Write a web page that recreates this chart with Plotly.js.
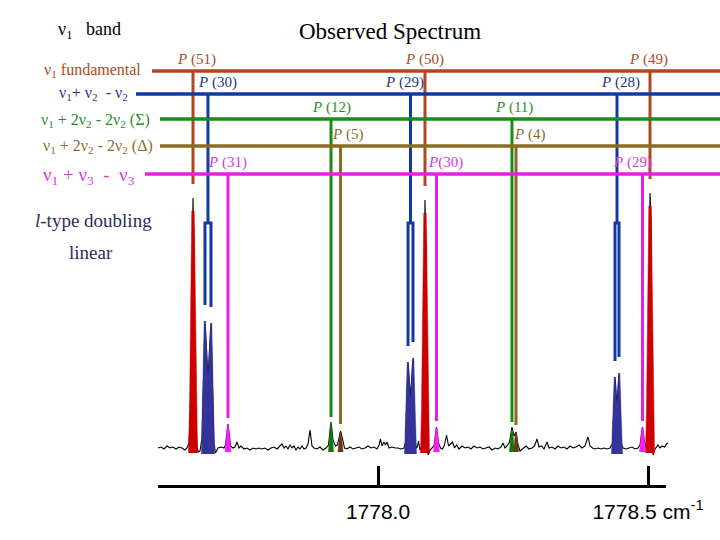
<!DOCTYPE html>
<html><head><meta charset="utf-8">
<script src="https://cdn.plot.ly/plotly-3.0.1.min.js"></script>
<style>body{margin:0;background:#fff}</style>
</head><body><div id="chart" style="width:720px;height:540px"></div>
<script>
// ---------------- data ----------------
// nu1 fundamental, P-branch lines
const fundJ   = [51, 50, 49];
const fundPos = [1777.6574, 1778.0870, 1778.5037];
const fundHt  = [250, 248, 255];

// nu1 + nu2 - nu2 hot band, l-type doubled components
const hotJ    = [30, 29, 28];
const hotPosA = [1777.6796, 1778.0556, 1778.4389];
const hotPosB = [1777.6907, 1778.0648, 1778.4463];
const hotHtA  = [127, 86, 71];
const hotHtB  = [125, 90, 75];

// nu1 + 2nu2 - 2nu2 (Sigma)
const sigJ   = [12, 11];
const sigPos = [1777.9130, 1778.2481];
const sigHt  = [23, 18];

// nu1 + 2nu2 - 2nu2 (Delta)
const delJ   = [5, 4];
const delPos = [1777.9306, 1778.2556];
const delHt  = [16, 15];

// nu1 + nu3 - nu3
const v3J   = [31, 30, 29];
const v3Pos = [1777.7222, 1778.1083, 1778.4898];
const v3Ht  = [23, 20, 20];

// observed spectrum trace (wavenumber, intensity above baseline)
const specWn = [
1777.5926,1777.5981,1777.6037,1777.6093,1777.6148,1777.6204,1777.6259,1777.6315,1777.6370,1777.6426,
1777.6463,1777.6500,1777.6537,1777.6565,1777.6574,1777.6593,1777.6611,1777.6648,1777.6676,1777.6704,
1777.6741,1777.6796,1777.6852,1777.6907,1777.6963,1777.6991,1777.7037,1777.7093,1777.7148,1777.7176,
1777.7222,1777.7269,1777.7315,1777.7352,1777.7389,1777.7426,1777.7463,1777.7519,1777.7574,1777.7630,
1777.7685,1777.7741,1777.7796,1777.7852,1777.7907,1777.7963,1777.8019,1777.8074,1777.8130,1777.8185,
1777.8222,1777.8259,1777.8296,1777.8333,1777.8370,1777.8407,1777.8444,1777.8481,1777.8519,1777.8556,
1777.8593,1777.8630,1777.8667,1777.8704,1777.8741,1777.8778,1777.8815,1777.8870,1777.8926,1777.8981,
1777.9037,1777.9083,1777.9130,1777.9167,1777.9213,1777.9250,1777.9306,1777.9343,1777.9380,1777.9426,
1777.9481,1777.9537,1777.9593,1777.9648,1777.9704,1777.9759,1777.9815,1777.9870,1777.9926,1777.9981,
1778.0019,1778.0046,1778.0074,1778.0111,1778.0139,1778.0167,1778.0204,1778.0259,1778.0315,1778.0370,
1778.0426,1778.0481,1778.0509,1778.0556,1778.0602,1778.0648,1778.0685,1778.0722,1778.0750,1778.0778,
1778.0815,1778.0843,1778.0870,1778.0889,1778.0907,1778.0926,1778.0963,1778.1000,1778.1037,1778.1083,
1778.1120,1778.1157,1778.1194,1778.1231,1778.1269,1778.1306,1778.1343,1778.1380,1778.1417,1778.1454,
1778.1500,1778.1556,1778.1611,1778.1667,1778.1722,1778.1778,1778.1833,1778.1889,1778.1944,1778.2000,
1778.2056,1778.2111,1778.2167,1778.2222,1778.2278,1778.2315,1778.2352,1778.2389,1778.2435,1778.2481,
1778.2519,1778.2556,1778.2593,1778.2630,1778.2685,1778.2741,1778.2796,1778.2852,1778.2898,1778.2944,
1778.2981,1778.3028,1778.3074,1778.3130,1778.3167,1778.3222,1778.3278,1778.3333,1778.3389,1778.3444,
1778.3500,1778.3556,1778.3611,1778.3667,1778.3722,1778.3778,1778.3833,1778.3889,1778.3926,1778.3972,
1778.4019,1778.4074,1778.4130,1778.4185,1778.4241,1778.4296,1778.4343,1778.4389,1778.4426,1778.4463,
1778.4500,1778.4537,1778.4593,1778.4648,1778.4704,1778.4759,1778.4815,1778.4852,1778.4898,1778.4935,
1778.4972,1778.5009,1778.5028,1778.5037,1778.5056,1778.5074,1778.5093,1778.5130,1778.5185,1778.5222,
1778.5259,1778.5306,1778.5343,1778.5370];
const specInt = [
0,1,-1,2,0,1,-1,1,0,-2,
0,5,60,240,250,200,60,0,-4,-3,
10,127,70,125,5,-5,0,1,0,3,
24,2,0,1,6,0,2,-1,0,-2,
0,-1,0,-1,0,-2,0,1,-1,2,
4,0,2,-1,3,0,2,-2,1,-1,
2,-1,0,4,18,2,0,-1,1,-2,
0,3,26,8,2,3,17,9,0,-1,
1,-1,0,1,-1,0,2,0,1,-1,
3,9,2,6,3,6,0,1,0,0,
-1,0,5,86,50,90,4,0,7,-2,
2,50,248,200,40,-7,-2,0,2,21,
5,0,-1,3,13,2,4,6,0,3,
-1,2,0,1,-1,2,0,1,-1,0,
1,-2,0,-1,1,5,0,2,6,21,
12,16,3,-3,0,2,-1,0,2,9,
1,2,-1,6,0,1,-1,2,0,1,
-1,2,0,1,3,0,2,11,2,0,
-1,0,-1,0,-1,0,5,71,42,75,
5,0,-1,0,1,-1,0,3,21,6,
0,30,200,255,230,40,-7,-1,3,0,
2,1,4,5];

const tickVals = [1778.0, 1778.5];
const tickText = ['1778.0', '1778.5 cm<sup>-1</sup>'];

// ---------------- drawing scale & styles ----------------
const W = 720, H = 540;
const X0 = 1777.3, PXW = 540;             // cm^-1 at left edge, pixels per cm^-1
const XR = [X0, X0 + W / PXW];
const YR = [-92, 448];
const PX = 1 / PXW;
const wnOf = p => X0 + p / PXW;
const paperY = py => 1 - py / H;

const serif = 'Liberation Serif, Times New Roman, serif';

const C = {
  brown:  {line:'#b4461e', text:'#a84c25', fill:'#cc0000'},
  blue:   {line:'#1238a4', text:'#1f3580', fill:'#333399'},
  green:  {line:'#178c17', text:'#2a8a2a', fill:'#0d7a0d'},
  olive:  {line:'#8c6a22', text:'#8a6d2a', fill:'#6b3a14'},
  magenta:{line:'#e61ee6', text:'#d43cd4', fill:'#ff1aff'}
};
const LV = {brown:377, blue:354, green:329, olive:302, magenta:274};
const LS = {brown:152, blue:136, green:160, olive:160, magenta:145};

const traces = [];

traces.push({x: specWn, y: specInt, mode:'lines', line:{color:'#000', width:1.1}, hoverinfo:'skip'});

function joinPolys(polys) {
  const x = [], y = [];
  polys.forEach((p, i) => { if (i) { x.push(null); y.push(null); } x.push(...p.x); y.push(...p.y); });
  return {x, y};
}
function fillTrace(polys, color) {
  const d = joinPolys(polys);
  return {x:d.x, y:d.y, mode:'lines', fill:'toself', fillcolor:color, line:{color:color, width:0.5}, hoverinfo:'skip'};
}
const redPoly = (c, h) => ({
  x:[c-4.5*PX, c-3.5*PX, c-2.5*PX, c-1.2*PX, c+1.2*PX, c+2.5*PX, c+3.5*PX, c+4.5*PX],
  y:[-5, 0.15*h, 0.5*h, h-13, h-13, 0.5*h, 0.15*h, -5]});
const dblPoly = (a, b, ha, hb) => ({
  x:[a-3.5*PX, a-2*PX, a-0.8*PX, a+0.6*PX, (a+b)/2, b-0.6*PX, b+0.8*PX, b+2*PX, b+3.5*PX],
  y:[-6, 0.5*ha, ha, ha-6, 0.55*Math.min(ha, hb), hb-6, hb, 0.5*hb, -6]});
const smallPoly = (c, h, w) => ({x:[c-w*PX, c-0.6*PX, c+0.6*PX, c+w*PX], y:[-4, h, h, -4]});

traces.push(fillTrace(fundPos.map((c,i)=>redPoly(c, fundHt[i])), C.brown.fill));
traces.push(fillTrace(hotPosA.map((a,i)=>dblPoly(a, hotPosB[i], hotHtA[i], hotHtB[i])), C.blue.fill));
traces.push(fillTrace(v3Pos.map((c,i)=>smallPoly(c, v3Ht[i], 3)), C.magenta.fill));
traces.push(fillTrace(sigPos.map((c,i)=>smallPoly(c, sigHt[i], 2.6)), C.green.fill));
traces.push(fillTrace(delPos.map((c,i)=>smallPoly(c, delHt[i], 2.6)), C.olive.fill));

function hLine(key) {
  return {x:[wnOf(LS[key]), XR[1]], y:[LV[key], LV[key]], mode:'lines',
          line:{color:C[key].line, width:3.5}, hoverinfo:'skip'};
}
function vLines(key, pos, ht, gap) {
  const x = [], y = [];
  pos.forEach((p,i) => { x.push(p, p, null); y.push(LV[key], ht[i] + gap, null); });
  return {x, y, mode:'lines', line:{color:C[key].line, width:3}, hoverinfo:'skip'};
}
function forks(key, a, b, ha, hb, top, gap) {
  const x = [], y = [];
  a.forEach((pa,i) => {
    const pb = b[i], m = (pa + pb) / 2;
    x.push(m, m, null, pa, pa, pb, pb, null);
    y.push(LV[key], top, null, ha[i] + gap, top, top, hb[i] + gap, null);
  });
  return {x, y, mode:'lines', line:{color:C[key].line, width:3}, hoverinfo:'skip'};
}

traces.push(hLine('brown'));
traces.push(vLines('brown', fundPos, fundHt, 14));
traces.push(hLine('blue'));
traces.push(forks('blue', hotPosA, hotPosB, hotHtA, hotHtB, 225, 16));
traces.push(hLine('green'));
traces.push(vLines('green', sigPos, sigHt, 8));
traces.push(hLine('olive'));
traces.push(vLines('olive', delPos, delHt, 8));
traces.push(hLine('magenta'));
traces.push(vLines('magenta', v3Pos, v3Ht, 7));

// invisible anchor trace so that the wavenumber axis subplot is built
traces.push({x: tickVals, y: [0.5, 0.5], xaxis:'x2', yaxis:'y2', mode:'markers',
  marker:{opacity:0, size:1}, hoverinfo:'skip'});

// ---------------- annotations ----------------
const ann = [];
function pLabels(key, pos, J, shifts, nospace) {
  pos.forEach((p,i) => {
    ann.push({xref:'x', yref:'y', x:p, y:LV[key], yanchor:'middle', xanchor:'center',
      yshift:12, xshift:shifts[i], showarrow:false,
      text:'<i>P</i>' + ((nospace && nospace[i]) ? '' : ' ') + '(' + J[i] + ')',
      font:{family:serif, size:15, color:C[key].text}});
  });
}
pLabels('brown', fundPos, fundJ, [3, 0, -2]);
pLabels('blue', hotPosA.map((a,i)=>(a+hotPosB[i])/2), hotJ, [10, -6, 3]);
pLabels('green', sigPos, sigJ, [0, 2]);
pLabels('olive', delPos, delJ, [7, 13]);
pLabels('magenta', v3Pos, v3J, [0, 9, -10], [false, true, false]);

function txt(text, px, py, anchor, size, color) {
  ann.push({xref:'paper', yref:'paper', x:px/W, y:paperY(py), xanchor:anchor, yanchor:'middle',
    showarrow:false, text:text, font:{family:serif, size:size, color:color}});
}
const NB = '\u00a0';
txt('Observed Spectrum', 390, 32, 'center', 23, '#000');
txt('ν<sub>1</sub>' + NB + NB + ' band', 56, 30, 'left', 18, '#000');
txt('ν<sub>1</sub> fundamental', 143, 70, 'right', 16, C.brown.text);
txt('ν<sub>1</sub>+ ν<sub>2</sub>' + NB + ' - ν<sub>2</sub>', 130, 94, 'right', 16, C.blue.text);
txt('ν<sub>1</sub> + 2ν<sub>2</sub> - 2ν<sub>2</sub> (Σ)', 152, 120, 'right', 16, C.green.text);
txt('ν<sub>1</sub> + 2ν<sub>2</sub> - 2ν<sub>2</sub> (Δ)', 155, 147, 'right', 16, C.olive.text);
txt('ν<sub>1</sub> + ν<sub>3</sub>' + NB + ' - ' + NB + 'ν<sub>3</sub>', 137, 176, 'right', 19, C.magenta.text);
txt('<i>l</i>-type doubling', 93, 221, 'center', 19, '#2b2b5e');
txt('linear', 91, 252, 'center', 19, '#2b2b5e');

const layout = {
  width:W, height:H, margin:{l:0, r:0, t:0, b:0},
  paper_bgcolor:'#fff', plot_bgcolor:'rgba(0,0,0,0)', showlegend:false,
  xaxis:{range:XR, visible:false, fixedrange:true},
  yaxis:{range:YR, visible:false, fixedrange:true},
  xaxis2:{domain:[158/W, 666/W], range:[wnOf(158), wnOf(666)], anchor:'y2',
    showline:true, linecolor:'#000', linewidth:3, ticks:'inside', ticklen:19, tickwidth:3,
    tickcolor:'#000', tickmode:'array', tickvals:tickVals, ticktext:tickText,
    tickfont:{family:'Liberation Sans Narrow, Liberation Sans, Arial, sans-serif', size:21, color:'#000'},
    ticklabelstandoff:6, showgrid:false, zeroline:false, fixedrange:true},
  yaxis2:{domain:[paperY(485), 1], anchor:'x2', range:[0,1], visible:false, fixedrange:true},
  annotations:ann
};
Plotly.newPlot('chart', traces, layout, {displayModeBar:false, staticPlot:true});
</script></body></html>
